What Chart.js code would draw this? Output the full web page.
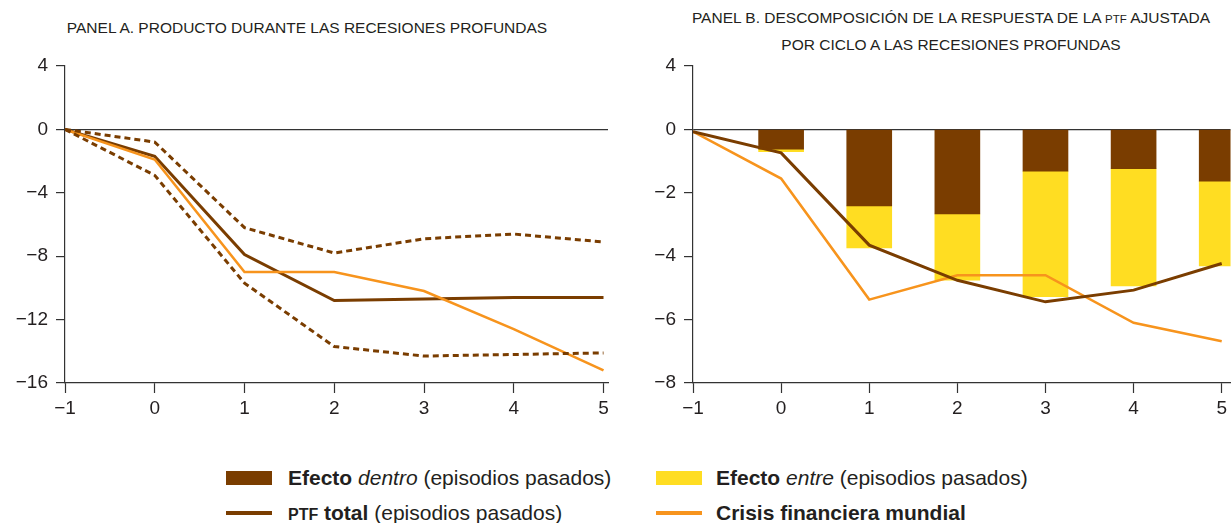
<!DOCTYPE html>
<html lang="es">
<head>
<meta charset="utf-8">
<script src="https://cdn.jsdelivr.net/npm/chart.js@4/dist/chart.umd.min.js"></script>
<style>
  body { margin: 0; width: 1231px; height: 523px; overflow: hidden; background: #fff;
         font-family: "Liberation Sans", Arial, Helvetica, sans-serif; color: #231f20; }
  canvas { position: absolute; top: 0; }
  #graficoA { left: 0; }
  #graficoB { left: 628px; }
  .titulo { position: absolute; font-size: 15.5px; line-height: 25px; text-align: center; white-space: nowrap; transform: translateX(-50%); }
  .sc { font-size: 11.5px; }
  .leyenda { position: absolute; font-size: 21px; white-space: nowrap; line-height: 24px; }
  .muestra { position: absolute; }
  .scl { font-size: 16px; }
</style>
</head>
<body>
<div class="titulo" style="left:307px; top:15px;">PANEL A. PRODUCTO DURANTE LAS RECESIONES PROFUNDAS</div>
<div class="titulo" style="left:951px; top:5px;">PANEL B. DESCOMPOSICIÓN DE LA RESPUESTA DE LA <span class="sc">PTF</span> AJUSTADA<br>POR CICLO A LAS RECESIONES PROFUNDAS</div>

<canvas id="graficoA" width="620" height="430"></canvas>
<canvas id="graficoB" width="603" height="430"></canvas>

<div class="muestra" style="left:226px; top:471px; width:46px; height:14px; background:#7a3d00;"></div>
<div class="leyenda" style="left:288px; top:466px;"><b>Efecto</b> <i>dentro</i> (episodios pasados)</div>
<div class="muestra" style="left:656px; top:471px; width:46px; height:14px; background:#ffdd22;"></div>
<div class="leyenda" style="left:716px; top:466px;"><b>Efecto</b> <i>entre</i> (episodios pasados)</div>
<div class="muestra" style="left:226px; top:511px; width:46px; height:4px; background:#7a3d00;"></div>
<div class="leyenda" style="left:288px; top:501px;"><b><span class="scl">PTF</span> total</b> (episodios pasados)</div>
<div class="muestra" style="left:656px; top:511px; width:46px; height:4px; background:#f7941d;"></div>
<div class="leyenda" style="left:716px; top:501px;"><b>Crisis financiera mundial</b></div>

<script>
// años desde el inicio de la recesión
const anios = [-1, 0, 1, 2, 3, 4, 5];

// Panel A: producto (%)
const productoPasado = [0, -1.7, -7.9, -10.8, -10.7, -10.6, -10.6];
const bandaSuperior  = [0, -0.8, -6.2, -7.8, -6.9, -6.6, -7.1];
const bandaInferior  = [0, -2.9, -9.7, -13.7, -14.3, -14.2, -14.1];
const productoCrisis = [0, -1.9, -9.0, -9.0, -10.2, -12.6, -15.2];
const ticksYA = [4, 0, -4, -8, -12, -16];
const etiquetasYA = ["4", "0", "−4", "−8", "−12", "−16"];

// Panel B: PTF ajustada por ciclo
const aniosBarras  = [0, 1, 2, 3, 4, 5];
const efectoDentro = [-0.62, -2.41, -2.67, -1.32, -1.24, -1.63];
const efectoEntre  = [-0.08, -1.33, -2.09, -3.96, -3.70, -2.68];
const ptfTotal     = [-0.07, -0.74, -3.65, -4.76, -5.44, -5.07, -4.23];
const ptfCrisis    = [-0.07, -1.55, -5.37, -4.60, -4.60, -6.10, -6.68];
// la marca superior del eje va un paso por encima de 0 y está rotulada "4"
const ticksYB = [2, 0, -2, -4, -6, -8];
const etiquetasYB = ["4", "0", "−2", "−4", "−6", "−8"];

const MARRON = "#7a3d00";
const AMARILLO = "#ffdd22";
const NARANJA = "#f7941d";
const EJE = "#333";

const pares = (xs, ys) => ys.map((y, i) => ({ x: xs[i], y: y }));
const signo = v => String(v).replace("-", "\u2212");
const fuente = { family: "'Liberation Sans', Arial, sans-serif", size: 19 };

function escalas(ticksY, etiquetasY, maxX) {
	return {
		x: {
			type: "linear", min: -1, max: maxX, offset: false,
			afterBuildTicks: s => { s.ticks = anios.map(v => ({ value: v })); },
			afterFit: s => { s.height = 47; },
			ticks: { font: fuente, color: "#231f20", padding: 4, maxRotation: 0, callback: signo },
			grid: { drawOnChartArea: false, offset: false, tickLength: 10, tickColor: EJE, tickWidth: 1.2 },
			border: { color: EJE, width: 1.2 }
		},
		y: {
			type: "linear", min: ticksY[ticksY.length - 1], max: ticksY[0], stacked: true,
			afterBuildTicks: s => { s.ticks = ticksY.map(v => ({ value: v })); },
			afterFit: s => { s.width = 65; },
			ticks: { font: fuente, color: "#231f20", padding: 8, callback: (v, i) => etiquetasY[i] },
			grid: {
				color: c => (c.tick && c.tick.value === 0 ? EJE : "rgba(0,0,0,0)"),
				lineWidth: 1.2, tickLength: 9, tickColor: EJE, tickWidth: 1.2
			},
			border: { color: EJE, width: 1.2 }
		}
	};
}

const linea = (etiqueta, datos, color, extra) => Object.assign({
	type: "line", label: etiqueta, data: pares(anios, datos),
	borderColor: color, borderWidth: 3, pointRadius: 0, tension: 0, fill: false
}, extra || {});

const opcionesBase = {
	responsive: false, animation: false,
	plugins: { legend: { display: false }, tooltip: { enabled: false }, title: { display: false } }
};

new Chart(document.getElementById("graficoA").getContext("2d"), {
	type: "line",
	data: {
		datasets: [
			linea("Banda superior", bandaSuperior, MARRON, { borderDash: [6, 4], stack: "a1" }),
			linea("Banda inferior", bandaInferior, MARRON, { borderDash: [6, 4], stack: "a2" }),
			linea("Crisis financiera mundial", productoCrisis, NARANJA, { borderWidth: 2.6, stack: "a3" }),
			linea("Episodios pasados", productoPasado, MARRON, { stack: "a4" })
		]
	},
	options: Object.assign({}, opcionesBase, {
		layout: { padding: { top: 66, right: 12, left: 0, bottom: 0 } },
		scales: escalas(ticksYA, etiquetasYA, 5.05)
	})
});

new Chart(document.getElementById("graficoB").getContext("2d"), {
	type: "bar",
	data: {
		datasets: [
			{ label: "Efecto dentro", data: pares(aniosBarras, efectoDentro), backgroundColor: MARRON, stack: "ptf", barThickness: 45, order: 2 },
			{ label: "Efecto entre", data: pares(aniosBarras, efectoEntre), backgroundColor: AMARILLO, stack: "ptf", barThickness: 45, order: 2 },
			linea("Crisis financiera mundial", ptfCrisis, NARANJA, { borderWidth: 2.6, stack: "b1", order: 1 }),
			linea("PTF total", ptfTotal, MARRON, { stack: "b2", order: 0 })
		]
	},
	options: Object.assign({}, opcionesBase, {
		layout: { padding: { top: 66, right: 0, left: 0, bottom: 0 } },
		scales: escalas(ticksYB, etiquetasYB, 5.1)
	})
});
</script>
</body>
</html>
